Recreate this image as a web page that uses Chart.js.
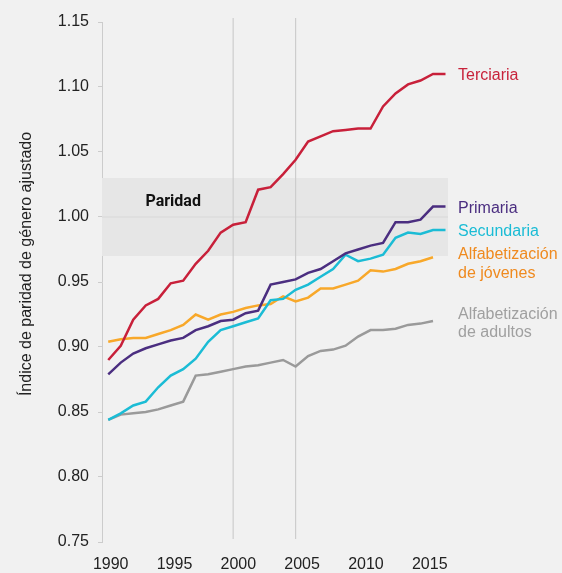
<!DOCTYPE html>
<html>
<head>
<meta charset="utf-8">
<script src="https://cdn.jsdelivr.net/npm/chart.js@4"></script>
<style>
    body { margin: 0; background: #f1f1f1; }
    canvas { display: block; background: #f1f1f1; }
</style>
</head>
<body>
<canvas id="parityChart" width="562" height="573"></canvas>
<script>
// years on the x axis
const years = [1990, 1991, 1992, 1993, 1994, 1995, 1996, 1997, 1998, 1999,
    2000, 2001, 2002, 2003, 2004, 2005, 2006, 2007, 2008, 2009,
    2010, 2011, 2012, 2013, 2014, 2015, 2016, 2017];

// adjusted gender parity index
const terciaria = [0.890, 0.901, 0.921, 0.932, 0.937, 0.949, 0.951, 0.964, 0.974, 0.988,
    0.994, 0.996, 1.021, 1.023, 1.033, 1.044, 1.058, 1.062, 1.066, 1.067,
    1.068, 1.068, 1.085, 1.095, 1.102, 1.105, 1.110, 1.110];
const primaria = [0.879, 0.888, 0.895, 0.899, 0.902, 0.905, 0.907, 0.913, 0.916, 0.920,
    0.921, 0.926, 0.928, 0.948, 0.950, 0.952, 0.957, 0.960, 0.966, 0.972,
    0.975, 0.978, 0.980, 0.996, 0.996, 0.998, 1.008, 1.008];
const secundaria = [0.844, 0.849, 0.855, 0.858, 0.869, 0.878, 0.883, 0.891, 0.904, 0.913,
    0.916, 0.919, 0.922, 0.936, 0.937, 0.944, 0.948, 0.954, 0.960, 0.971,
    0.966, 0.968, 0.971, 0.984, 0.988, 0.987, 0.990, 0.990];
const jovenes = [0.904, 0.906, 0.907, 0.907, 0.910, 0.913, 0.917, 0.925, 0.921, 0.925,
    0.927, 0.930, 0.932, 0.933, 0.939, 0.935, 0.938, 0.945, 0.945, 0.948,
    0.951, 0.959, 0.958, 0.960, 0.964, 0.966, 0.969];
const adultos = [0.844, 0.848, 0.849, 0.850, 0.852, 0.855, 0.858, 0.878, 0.879, 0.881,
    0.883, 0.885, 0.886, 0.888, 0.890, 0.885, 0.893, 0.897, 0.898, 0.901,
    0.908, 0.913, 0.913, 0.914, 0.917, 0.918, 0.920];

const seriesNames = [['Terciaria'], ['Primaria'], ['Secundaria'],
    ['Alfabetización', 'de jóvenes'], ['Alfabetización', 'de adultos']];
const xTickYears = [1990, 1995, 2000, 2005, 2010, 2015];
const yTickValues = [0.75, 0.80, 0.85, 0.90, 0.95, 1.00, 1.05, 1.10, 1.15];
const parityBand = [0.97, 1.03];
const parityLine = 1.00;
const markerYears = [2000, 2005];

const FONT = 'Liberation Sans';

function toPoints(values) {
    return values.map((v, i) => ({ x: years[i], y: v }));
}

function makeLine(label, values, color) {
    return {
        label: label,
        data: toPoints(values),
        borderColor: color,
        borderWidth: 2.5,
        pointRadius: 0,
        fill: false,
        xAxisID: 'x',
        yAxisID: 'y'
    };
}

// band, vertical markers, labels and axis title
const decorPlugin = {
    id: 'decor',
    beforeDatasetsDraw(chart) {
        let ctx = chart.ctx;
        let area = chart.chartArea;
        let x = chart.scales.x, y = chart.scales.y;
        ctx.save();
        let top = y.getPixelForValue(parityBand[1]);
        let bottom = y.getPixelForValue(parityBand[0]);
        ctx.fillStyle = '#e6e6e6';
        ctx.fillRect(area.left, top, area.right - area.left, bottom - top);
        ctx.strokeStyle = '#dcdcdc';
        ctx.lineWidth = 1.5;
        ctx.beginPath();
        ctx.moveTo(area.left, y.getPixelForValue(parityLine));
        ctx.lineTo(area.right, y.getPixelForValue(parityLine));
        ctx.stroke();

        ctx.strokeStyle = '#cdcdcd';
        ctx.lineWidth = 1.2;
        markerYears.forEach(yr => {
            let px = x.getPixelForValue(yr);
            ctx.beginPath();
            ctx.moveTo(px, area.top - 4);
            ctx.lineTo(px, area.bottom - 3);
            ctx.stroke();
        });

        ctx.fillStyle = '#111';
        ctx.font = 'bold 16px Roboto';
        ctx.textAlign = 'center';
        ctx.textBaseline = 'alphabetic';
        ctx.fillText('Paridad', x.getPixelForValue(1995.2), y.getPixelForValue(1.0085));
        ctx.restore();
    },
    afterDatasetsDraw(chart) {
        let ctx = chart.ctx;
        let nudges = [6, 6, 6, 2, -2];
        ctx.save();
        ctx.font = '16px "' + FONT + '"';
        ctx.textAlign = 'left';
        ctx.textBaseline = 'alphabetic';
        chart.data.datasets.forEach((ds, i) => {
            let meta = chart.getDatasetMeta(i);
            let last = meta.data[meta.data.length - 1];
            ctx.fillStyle = ds.labelColor;
            seriesNames[i].forEach((line, j) => {
                ctx.fillText(line, chart.chartArea.right + 10, last.y + nudges[i] + j * 18.4);
            });
        });
        ctx.restore();
    },
    afterDraw(chart) {
        let ctx = chart.ctx;
        ctx.save();
        ctx.translate(30.5, 264);
        ctx.rotate(-Math.PI / 2);
        ctx.font = '16px "' + FONT + '"';
        ctx.fillStyle = '#222';
        ctx.textAlign = 'center';
        ctx.textBaseline = 'alphabetic';
        ctx.fillText('Índice de paridad de género ajustado', 0, 0);
        ctx.restore();
    }
};

let datasets = [
    makeLine('Terciaria', terciaria, '#c8203a'),
    makeLine('Primaria', primaria, '#4b2e80'),
    makeLine('Secundaria', secundaria, '#1bbcd5'),
    makeLine('Alfabetización de jóvenes', jovenes, '#f8a82a'),
    makeLine('Alfabetización de adultos', adultos, '#9a9a9a')
];
let labelColors = ['#c8233b', '#4b2e80', '#1bbcd5', '#ef8a1f', '#a0a0a0'];
datasets.forEach((ds, i) => ds.labelColor = labelColors[i]);

let ctx = document.getElementById('parityChart').getContext('2d');
let myChart = new Chart(ctx, {
    type: 'line',
    data: { datasets: datasets },
    options: {
        responsive: false,
        animation: false,
        devicePixelRatio: 1,
        layout: { padding: { top: 22, right: 114, left: 0, bottom: 0 } },
        plugins: {
            legend: { display: false },
            tooltip: { enabled: false }
        },
        scales: {
            x: {
                type: 'linear',
                min: 1989.5,
                max: 2017.2,
                display: false
            },
            xl: {
                type: 'linear',
                position: 'bottom',
                min: 1989.32,
                max: 2016.43,
                afterBuildTicks: s => { s.ticks = xTickYears.map(v => ({ value: v })); },
                afterFit: s => { s.height = 31; },
                grid: { display: false, drawTicks: false },
                border: { display: false },
                ticks: {
                    autoSkip: false,
                    maxRotation: 0,
                    padding: 13,
                    color: '#222',
                    font: { family: FONT, size: 16 },
                    callback: v => String(v)
                }
            },
            y: {
                min: 0.75,
                max: 1.15,
                afterBuildTicks: s => { s.ticks = yTickValues.map(v => ({ value: v })); },
                afterFit: s => { s.width = 102; },
                grid: { drawOnChartArea: false, tickLength: 4, color: '#cccccc' },
                border: { color: '#cccccc' },
                ticks: {
                    padding: 9,
                    color: '#222',
                    font: { family: FONT, size: 16 },
                    callback: v => v.toFixed(2)
                }
            }
        }
    },
    plugins: [decorPlugin]
});
</script>
</body>
</html>
